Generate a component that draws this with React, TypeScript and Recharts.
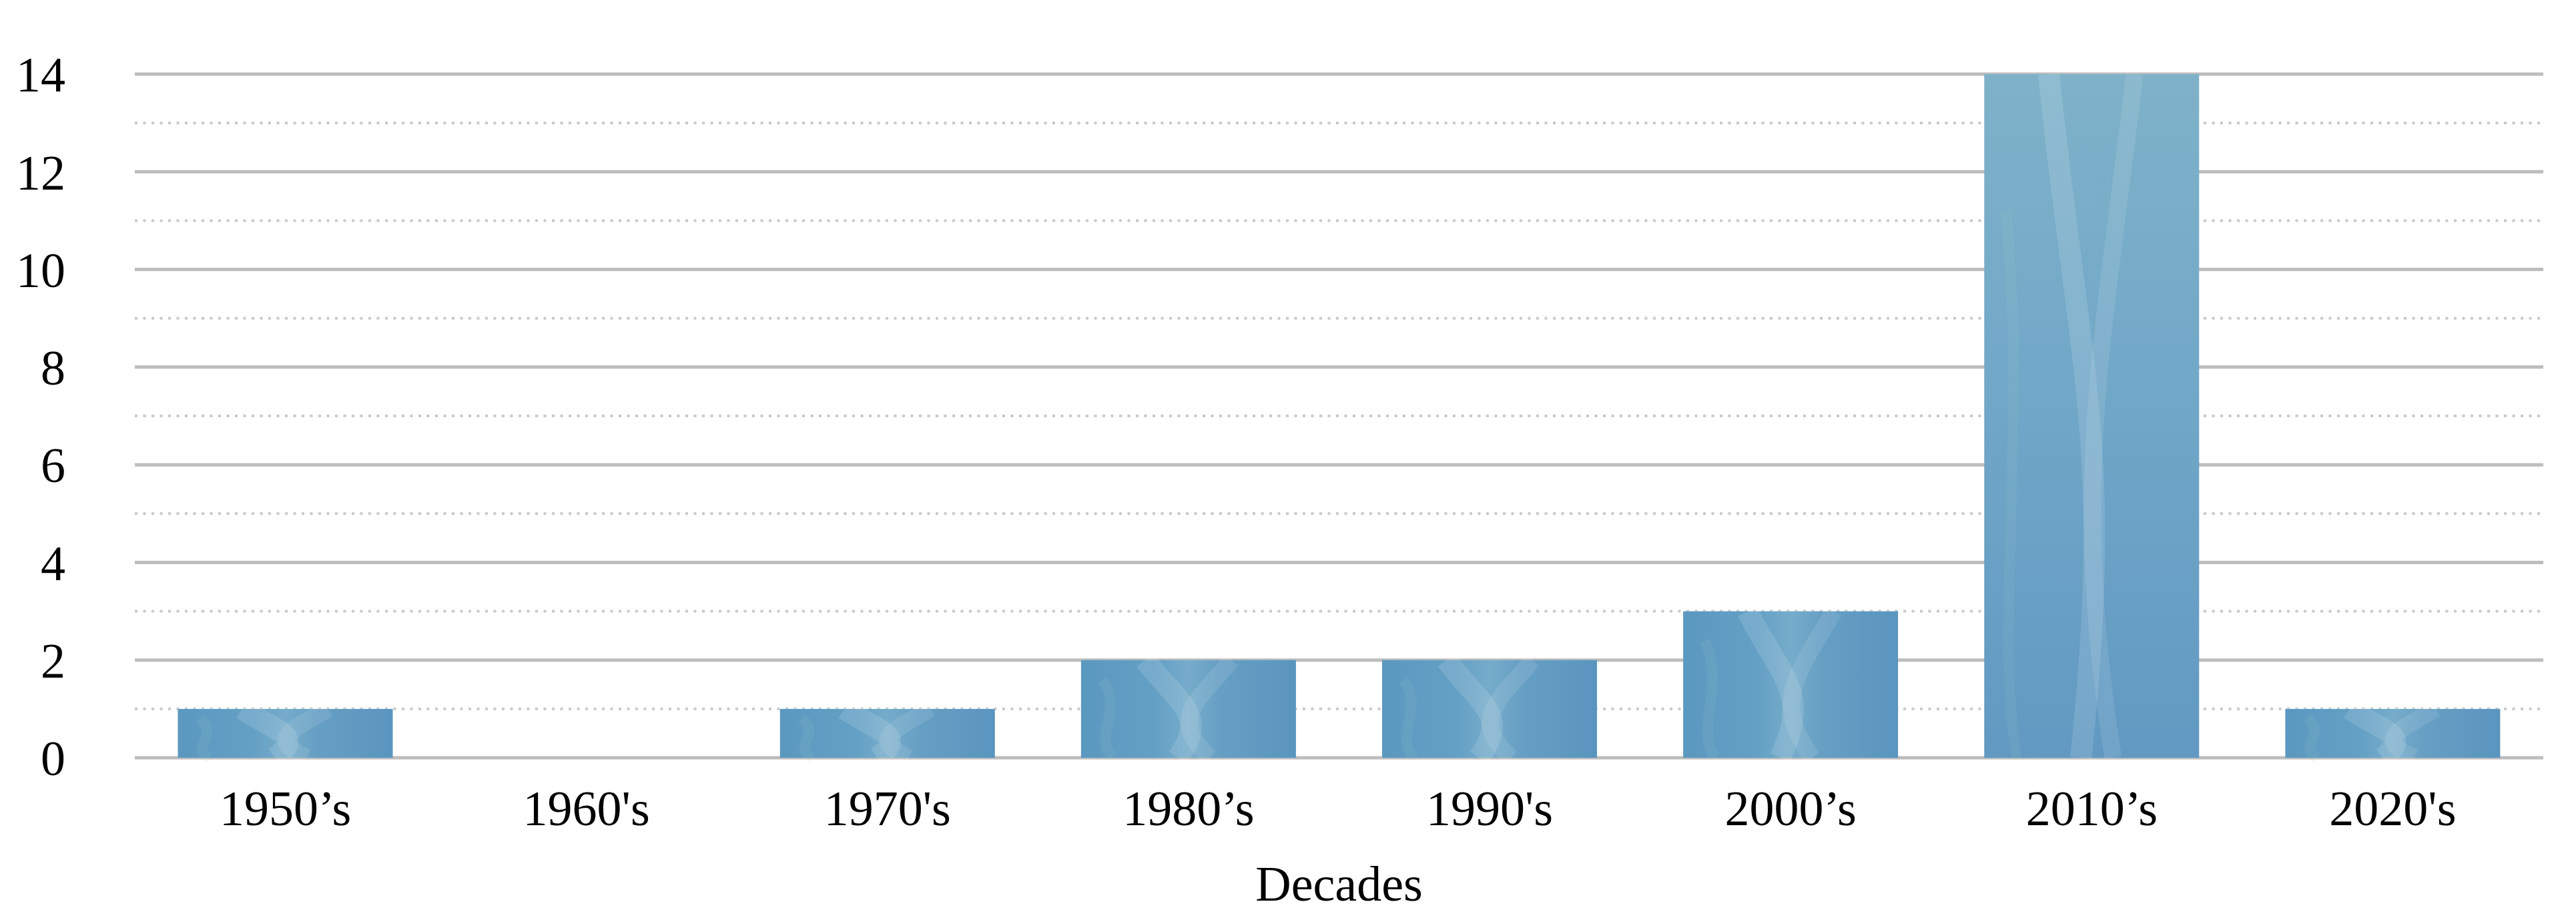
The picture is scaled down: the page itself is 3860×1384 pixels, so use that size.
import React from 'react';
import { BarChart, Bar, XAxis, YAxis, CartesianGrid, Label } from 'recharts';

const decades = ['1950’s', "1960's", "1970's", '1980’s', "1990's", '2000’s', '2010’s', "2020's"];
const counts = [1, 0, 1, 2, 2, 3, 14, 1];
const majorTicks = [0, 2, 4, 6, 8, 10, 12, 14];
const minorTicks = [1, 3, 5, 7, 9, 11, 13];
const xTitle = 'Decades';

const data = decades.map((d, i) => ({ decade: d, count: counts[i] }));

const FONT = '"Liberation Serif", "Times New Roman", serif';

const TexturedBar = (props: any) => {
  const { x, y, width, height, index } = props;
  if (!height || height <= 0) return null;
  const tall = index === 6;
  const fill = tall ? 'url(#barFillTall)' : 'url(#barFill)';
  const w = width;
  const h = height;
  return (
    <g>
      <rect x={x} y={y} width={w} height={h} fill={fill} />
      <path
        d={`M ${x + w * 0.3} ${y} C ${x + w * 0.45} ${y + h * 0.45}, ${x + w * 0.6} ${y + h * 0.55}, ${x + w * 0.45} ${y + h}`}
        stroke="#ffffff" strokeOpacity={0.13} strokeWidth={w * 0.1} fill="none"
      />
      <path
        d={`M ${x + w * 0.7} ${y} C ${x + w * 0.55} ${y + h * 0.4}, ${x + w * 0.4} ${y + h * 0.6}, ${x + w * 0.6} ${y + h}`}
        stroke="#ffffff" strokeOpacity={0.1} strokeWidth={w * 0.08} fill="none"
      />
      <path
        d={`M ${x + w * 0.1} ${y + h * 0.2} C ${x + w * 0.2} ${y + h * 0.5}, ${x + w * 0.05} ${y + h * 0.8}, ${x + w * 0.15} ${y + h}`}
        stroke="#9fd0c8" strokeOpacity={0.12} strokeWidth={w * 0.05} fill="none"
      />
    </g>
  );
};

export default function App() {
  return (
    <BarChart
      width={3844}
      height={1368}
      data={data}
      margin={{ top: 103, right: 41, bottom: 0, left: 0 }}
      barCategoryGap="14.3%"
    >
      <defs>
        <linearGradient id="barFill" x1="0" y1="0" x2="1" y2="0">
          <stop offset="0%" stopColor="#5b98c0" />
          <stop offset="35%" stopColor="#64a0c5" />
          <stop offset="50%" stopColor="#76acca" />
          <stop offset="65%" stopColor="#669fc4" />
          <stop offset="100%" stopColor="#5a95bf" />
        </linearGradient>
        <linearGradient id="barFillTall" x1="0" y1="0" x2="0" y2="1">
          <stop offset="0%" stopColor="#7fb2c9" />
          <stop offset="40%" stopColor="#73a9c8" />
          <stop offset="100%" stopColor="#6199c2" />
        </linearGradient>
      </defs>
      <CartesianGrid
        vertical={false}
        horizontalValues={minorTicks}
        stroke="#c9c9c9"
        strokeWidth={4}
        strokeDasharray="4 8.5"
      />
      <CartesianGrid
        vertical={false}
        horizontalValues={majorTicks}
        stroke="#bdbdbd"
        strokeWidth={5}
      />
      <XAxis
        dataKey="decade"
        axisLine={false}
        tickLine={false}
        height={241}
        tickMargin={42}
        interval={0}
        tick={{ fontFamily: FONT, fontSize: 74, fill: '#000000' }}
      >
        <Label
          value={xTitle}
          position="insideBottom"
          offset={27}
          style={{ fontFamily: FONT, fontSize: 74, fill: '#000000' }}
        />
      </XAxis>
      <YAxis
        domain={[0, 14]}
        ticks={majorTicks}
        axisLine={false}
        tickLine={false}
        width={194}
        tickMargin={98}
        tick={{ fontFamily: FONT, fontSize: 74, fill: '#000000' }}
      />
      <Bar dataKey="count" isAnimationActive={false} shape={<TexturedBar />} />
    </BarChart>
  );
}
